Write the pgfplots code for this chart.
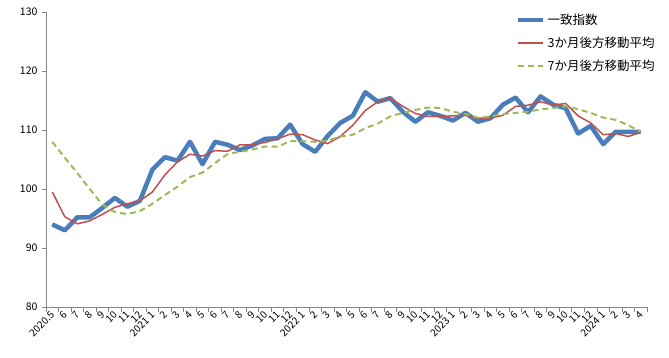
\documentclass[border=0pt]{standalone}
\usepackage{fontspec}
\setmainfont{Noto Sans CJK JP}
\usepackage{pgfplots}
\pgfplotsset{compat=1.18}
\usepackage{pgfplotstable}
\definecolor{cblue}{HTML}{4A7EBB}
\definecolor{cred}{HTML}{C0504D}
\definecolor{cgreen}{HTML}{9BBB59}
\definecolor{axgray}{HTML}{868686}
\pgfplotstableread{
x idx ma3 ma7
0 94.0 99.5 108.0
1 93.0 95.3 105.3
2 95.2 94.1 102.7
3 95.2 94.6 100.0
4 96.8 95.7 97.4
5 98.5 96.9 96.1
6 97.0 97.5 95.8
7 98.0 98.0 96.3
8 103.3 99.5 97.5
9 105.4 102.4 99.0
10 104.8 104.6 100.4
11 108.0 105.9 102.0
12 104.2 105.6 102.8
13 108.0 106.5 104.4
14 107.5 106.4 105.9
15 106.6 107.5 106.3
16 107.4 107.5 106.7
17 108.5 107.9 107.2
18 108.6 108.5 107.2
19 110.9 109.3 108.1
20 107.6 109.2 108.1
21 106.3 108.3 108.0
22 109.0 107.7 108.2
23 111.2 108.9 108.9
24 112.4 110.8 109.2
25 116.4 113.3 110.3
26 114.8 114.8 111.1
27 115.4 115.4 112.3
28 113.1 114.0 112.9
29 111.4 112.8 113.4
30 113.0 112.3 113.8
31 112.4 112.3 113.7
32 111.6 112.4 113.1
33 112.9 112.5 112.7
34 111.4 112.0 112.1
35 112.0 112.0 112.3
36 114.3 112.5 112.7
37 115.5 114.0 112.9
38 113.0 114.2 113.1
39 115.7 114.8 113.5
40 114.3 114.2 113.7
41 113.7 114.5 114.0
42 109.4 112.4 113.5
43 110.7 111.2 112.9
44 107.6 109.2 112.1
45 109.7 109.4 111.7
46 109.7 108.9 110.8
47 109.7 109.6 109.7
}\data
\begin{document}
\begin{tikzpicture}
\begin{axis}[
  at={(46pt,50pt)}, anchor=south west,
  scale only axis, width=601pt, height=295pt,
  xmin=-0.5, xmax=47.5, ymin=80, ymax=130,
  axis x line=bottom, axis y line=left,
  axis line style={axgray, -},
  ytick={80,90,...,130},
  xtick={0,...,47},
  xticklabels={2020.5,6,7,8,9,10,11,12,2021 1,2,3,4,5,6,7,8,9,10,11,12,2022 1,2,3,4,5,6,7,8,9,10,11,12,2023 1,2,3,4,5,6,7,8,9,10,11,12,2024 1,2,3,4},
  minor xtick={-0.5,0.5,...,47.5},
  major x tick style={draw=none},
  minor tick length=4.5pt,
  major tick length=4pt,
  tick align=outside,
  tick style={axgray, line width=0.8pt},
  /pgf/number format/assume math mode=true,
  yticklabel style={font=\fontsize{10.5}{12}\selectfont, xshift=-1pt},
  xticklabel style={font=\fontsize{10}{11}\selectfont, rotate=45, anchor=east, xshift=2pt, yshift=-2pt},
  legend style={draw=none, fill=none, at={(0.782,1.0)}, anchor=north west,
    font=\fontsize{12.5}{14}\selectfont, row sep=7pt, inner sep=0pt,
    /tikz/every even column/.append style={column sep=2pt}},
  legend cell align=left,
  legend image code/.code={\draw[#1] (0pt,0pt) -- (25pt,0pt);},
  clip=false,
]
\addplot[cblue, line width=4.5pt, line join=round] table[x=x, y=idx] {\data};
\addlegendentry{一致指数}
\addplot[cred, line width=1.5pt, line join=round] table[x=x, y=ma3] {\data};
\addlegendentry{3か月後方移動平均}
\addplot[cgreen, line width=2pt, dash pattern=on 6pt off 4pt, smooth, tension=0.3] table[x=x, y=ma7] {\data};
\addlegendentry{7か月後方移動平均}
\end{axis}
\pgfresetboundingbox
\useasboundingbox (0,0) rectangle (669pt,357pt);
\end{tikzpicture}
\end{document}
